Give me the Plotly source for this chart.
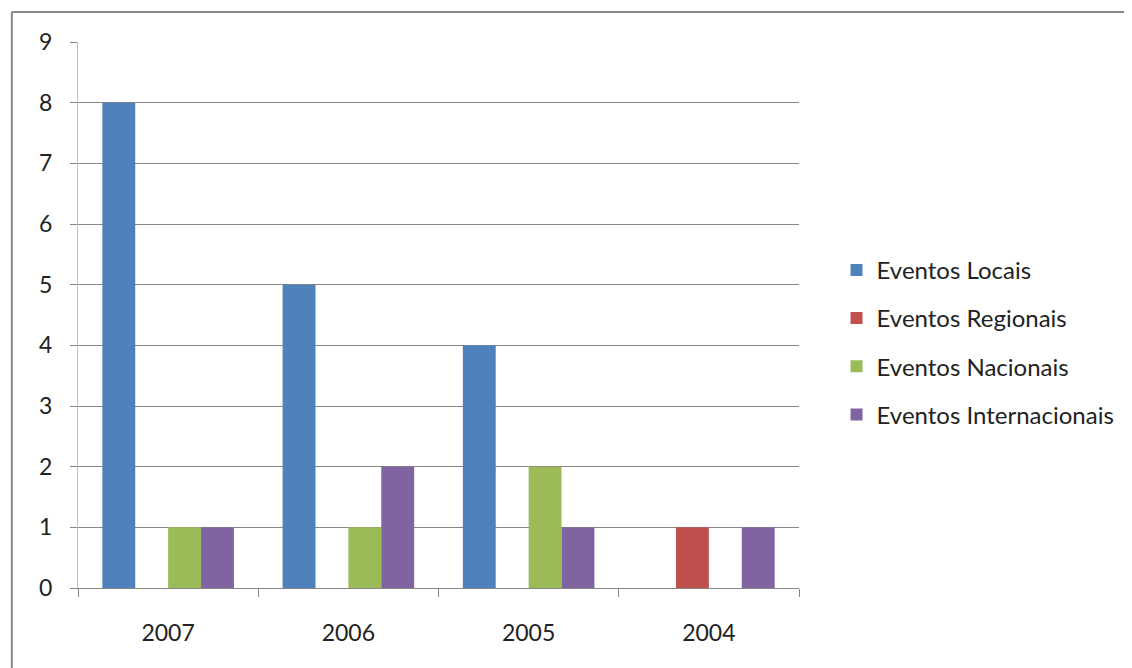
import plotly.graph_objects as go

categories = ["2007", "2006", "2005", "2004"]
series_names = ["Eventos Locais", "Eventos Regionais", "Eventos Nacionais", "Eventos Internacionais"]
locais = [8, 5, 4, 0]
regionais = [0, 0, 0, 1]
nacionais = [1, 1, 2, 0]
internacionais = [1, 2, 1, 1]
colors = ["#4F81BD", "#C0504D", "#9BBB59", "#8064A2"]
y_ticks = [0, 1, 2, 3, 4, 5, 6, 7, 8, 9]

values = [locais, regionais, nacionais, internacionais]

fig = go.Figure()
for i, (name, vals) in enumerate(zip(series_names, values)):
    fig.add_trace(go.Bar(
        x=categories, y=vals, name=name,
        marker=dict(color=colors[i], line=dict(width=0)),
        legendgroup=f"g{i}",
    ))

# page has an 8px body margin, so figure coords = page coords - 8
W, H = 1124, 660
L, R, T, B = 70, 800, 34, 580
pw, ph = R - L, B - T
gray = "#868686"
frame_x, frame_y = 3, 4

fig.update_layout(
    width=W, height=H,
    margin=dict(l=L, r=W - R, t=T, b=H - B, pad=0),
    paper_bgcolor="white", plot_bgcolor="white",
    barmode="group", bargap=0.27, bargroupgap=0,
    font=dict(family="Lato, 'Open Sans', sans-serif", size=23, color="#222222"),
    showlegend=True,
    legend=dict(
        x=1.0 + (838 - R) / pw, xanchor="left", y=0.45, yanchor="middle",
        font=dict(size=24, color="#222222"),
        tracegroupgap=14,
        itemwidth=30,
        bgcolor="rgba(0,0,0,0)",
    ),
    xaxis=dict(
        type="category", showgrid=False, showline=True, linecolor=gray, linewidth=1,
        ticks="outside", tickson="boundaries", ticklen=8, tickcolor=gray,
        tickfont=dict(size=23), ticklabelstandoff=24,
    ),
    yaxis=dict(
        range=[0, 9], tickvals=y_ticks, showgrid=True, gridcolor=gray, gridwidth=1,
        showline=True, linecolor="#BFBFBF", linewidth=1, zeroline=False,
        ticks="outside", ticklen=7, tickcolor=gray,
        tickfont=dict(size=23), ticklabelstandoff=13,
    ),
    shapes=[
        dict(type="line", xref="paper", yref="paper",
             x0=(frame_x - L) / pw, x1=(W + 5 - L) / pw,
             y0=1 + (T - frame_y) / ph, y1=1 + (T - frame_y) / ph,
             line=dict(color="#888888", width=2)),
        dict(type="line", xref="paper", yref="paper",
             x0=(frame_x - L) / pw, x1=(frame_x - L) / pw,
             y0=1 + (T - frame_y) / ph, y1=-(H + 5 - B) / ph,
             line=dict(color="#888888", width=2)),
    ],
)

fig.write_html("out.html")
